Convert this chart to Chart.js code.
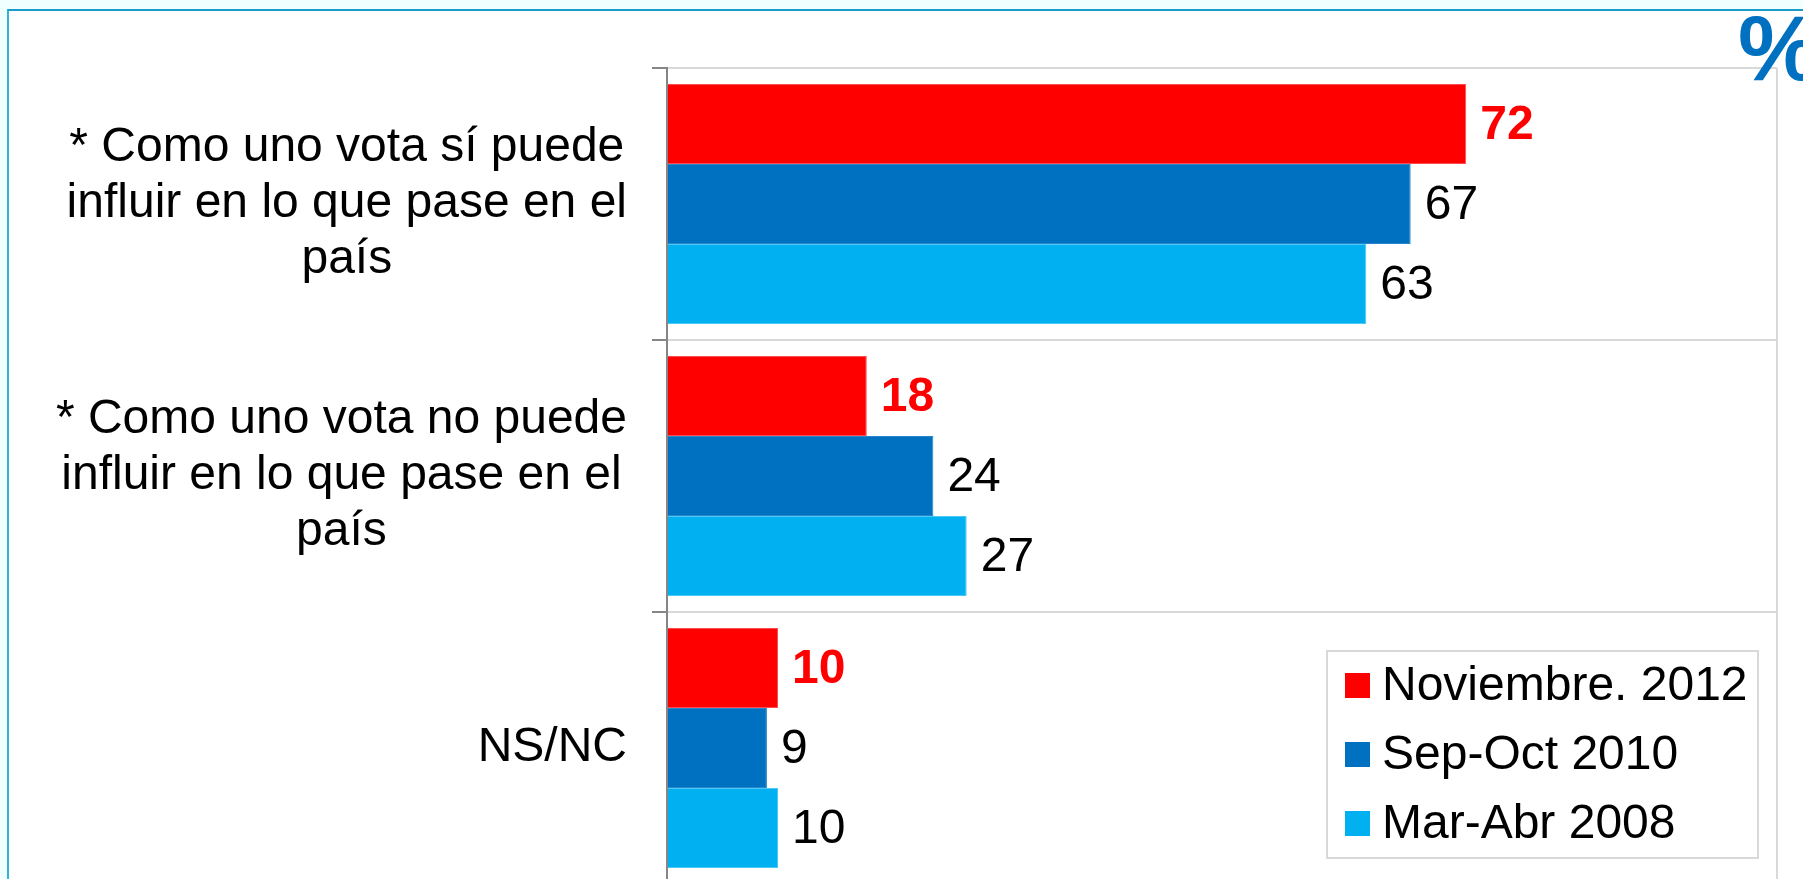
<!DOCTYPE html>
<html>
<head>
<meta charset="utf-8">
<script src="https://cdn.jsdelivr.net/npm/chart.js@4"></script>
<style>
    html, body { margin: 0; padding: 0; width: 1803px; height: 879px; overflow: hidden; background: #f0ffff; }
    #frame { position: absolute; left: 7px; top: 9px; width: 1810px; height: 900px; background: #fff;
             border-top: 2px solid #1a9bcb; border-left: 2px solid #33b3da; }
    #wrap { position: absolute; left: 0; top: 0; width: 1803px; height: 900px; }
    #pct { position: absolute; left: 1738px; top: -4px; font: bold 92px "Liberation Sans", Arial, sans-serif;
           color: #0070c0; white-space: nowrap; }
</style>
</head>
<body>
<div id="frame"></div>
<div id="wrap"><canvas id="chart" width="1803" height="900"></canvas></div>
<div id="pct">%</div>
<script>
const categories = [
    ["* Como uno vota sí puede", "influir en lo que pase en el", "país"],
    ["* Como uno vota no puede", "influir en lo que pase en el", "país"],
    ["NS/NC"]
];
const seriesNames = ["Noviembre. 2012", "Sep-Oct 2010", "Mar-Abr 2008"];
const nov2012 = [72, 18, 10];
const sepOct2010 = [67, 24, 9];
const marAbr2008 = [63, 27, 10];
const colors = ["#ff0000", "#0070c0", "#00b0f0"];
const edgeColors = ["#ff4d4d", "#2a86cc", "#4cc8f4"];

const FONT = '"Liberation Sans", Arial, sans-serif';

// category labels: lines centred inside a right-aligned block
const labelPlugin = {
    id: "labels",
    afterDraw(chart) {
        const ctx = chart.ctx;
        const y = chart.scales.y;
        const right = 627, lineH = 56;
        ctx.save();
        ctx.font = "48px " + FONT;
        ctx.fillStyle = "#000";
        ctx.textBaseline = "middle";
        ctx.textAlign = "center";
        categories.forEach((lines, i) => {
            const w = Math.max(...lines.map(l => ctx.measureText(l).width));
            const cx = right - w / 2;
            const cy = y.getPixelForValue(i);
            lines.forEach((l, k) => {
                ctx.fillText(l, cx, cy + (k - (lines.length - 1) / 2) * lineH);
            });
        });
        ctx.restore();
    }
};

// value labels right of each bar
const valuePlugin = {
    id: "values",
    afterDatasetsDraw(chart) {
        const ctx = chart.ctx;
        ctx.save();
        ctx.textBaseline = "middle";
        ctx.textAlign = "left";
        chart.data.datasets.forEach((ds, di) => {
            const meta = chart.getDatasetMeta(di);
            ctx.font = (di === 0 ? "bold " : "") + "48px " + FONT;
            ctx.fillStyle = di === 0 ? "#ff0000" : "#000";
            meta.data.forEach((bar, i) => {
                ctx.fillText(String(ds.data[i]), bar.x + 14, bar.y + 2);
            });
        });
        ctx.restore();
    }
};

// boxed legend in the lower right
const legendPlugin = {
    id: "boxLegend",
    afterDraw(chart) {
        const ctx = chart.ctx;
        const bx = 1327, by = 651, bw = 431, bh = 207;
        ctx.save();
        ctx.fillStyle = "#fff";
        ctx.fillRect(bx, by, bw, bh);
        ctx.strokeStyle = "#d9d9d9";
        ctx.lineWidth = 2;
        ctx.strokeRect(bx, by, bw, bh);
        ctx.font = "48px " + FONT;
        ctx.textBaseline = "middle";
        chart.data.datasets.forEach((ds, i) => {
            const top = 673 + i * 69;
            ctx.fillStyle = ds.backgroundColor;
            ctx.fillRect(1345, top, 25, 25);
            ctx.fillStyle = "#000";
            ctx.fillText(ds.label, 1382, top + 14);
        });
        ctx.restore();
    }
};

new Chart(document.getElementById("chart"), {
    type: "bar",
    data: {
        labels: categories.map(c => c.join(" ")),
        datasets: [nov2012, sepOct2010, marAbr2008].map((d, i) => ({
            label: seriesNames[i],
            data: d,
            backgroundColor: colors[i],
            borderColor: edgeColors[i],
            borderWidth: 1,
            categoryPercentage: 0.882,
            barPercentage: 1
        }))
    },
    options: {
        indexAxis: "y",
        responsive: false,
        animation: false,
        layout: { padding: { top: 68, right: 26, bottom: 16, left: 0 } },
        plugins: { legend: { display: false }, tooltip: { enabled: false } },
        scales: {
            x: {
                min: 0, max: 100,
                ticks: { display: false, stepSize: 20 },
                border: { display: false },
                grid: {
                    drawTicks: false,
                    lineWidth: 2,
                    color: c => (c.tick && c.tick.value === 100) ? "#d9d9d9" : "transparent"
                },
                afterFit: s => { s.height = 0; }
            },
            y: {
                ticks: { display: false },
                border: { color: "#868686", width: 2 },
                grid: { color: "#d9d9d9", lineWidth: 2, tickColor: "#868686", tickLength: 15, offset: true },
                afterFit: s => { s.width = 667; }
            }
        }
    },
    plugins: [labelPlugin, valuePlugin, legendPlugin]
});
</script>
</body>
</html>
